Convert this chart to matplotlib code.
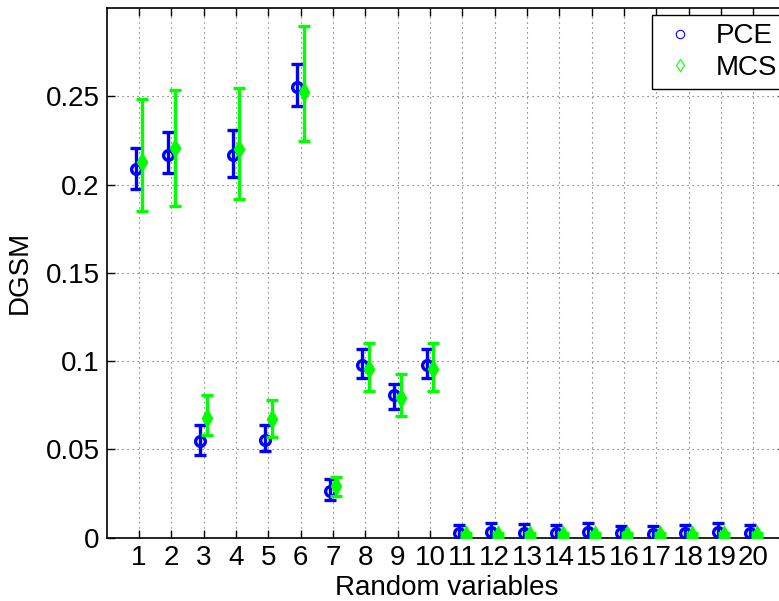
import numpy as np
import matplotlib
matplotlib.use('Agg')
import matplotlib.pyplot as plt
from matplotlib.lines import Line2D

plt.rcParams['font.family'] = ['Liberation Sans', 'DejaVu Sans']

# Random variable index
variables = np.arange(1, 21)

# PCE estimates of DGSM with lower / upper error
pce_mean = [0.209, 0.217, 0.055, 0.217, 0.0555, 0.2553, 0.0262, 0.098, 0.0806, 0.098,
            0.0025, 0.003, 0.0028, 0.0027, 0.003, 0.0025, 0.0023, 0.0026, 0.003, 0.0027]
pce_lo = [0.0115, 0.0104, 0.0082, 0.0127, 0.0062, 0.0106, 0.0048, 0.0077, 0.0075, 0.0077,
          0.0045, 0.0053, 0.005, 0.0047, 0.0055, 0.0043, 0.0041, 0.0046, 0.0053, 0.0047]
pce_hi = [0.0118, 0.0128, 0.0086, 0.0137, 0.0081, 0.0127, 0.0071, 0.0089, 0.0066, 0.0089,
          0.0045, 0.0053, 0.005, 0.0047, 0.0055, 0.0043, 0.0041, 0.0046, 0.0053, 0.0047]

# MCS estimates of DGSM with lower / upper error
mcs_mean = [0.2128, 0.2208, 0.0678, 0.2202, 0.0674, 0.2527, 0.0291, 0.0956, 0.0791, 0.0956,
            0.0015, 0.0015, 0.0015, 0.0015, 0.0015, 0.0015, 0.0015, 0.0015, 0.0015, 0.0015]
mcs_lo = [0.0276, 0.0327, 0.0096, 0.0282, 0.0106, 0.0282, 0.0055, 0.0127, 0.0104, 0.0127,
          0.001, 0.001, 0.001, 0.001, 0.001, 0.001, 0.001, 0.001, 0.001, 0.001]
mcs_hi = [0.0359, 0.0328, 0.0128, 0.0346, 0.0106, 0.0372, 0.0055, 0.0147, 0.0138, 0.0149,
          0.001, 0.001, 0.001, 0.001, 0.001, 0.001, 0.001, 0.001, 0.001, 0.001]

yticks = [0, 0.05, 0.1, 0.15, 0.2, 0.25]
yticklabels = ['0', '0.05', '0.1', '0.15', '0.2', '0.25']

fig = plt.figure(figsize=(7.79, 6.01), dpi=100)
ax = fig.add_axes([0.137, 0.1053, 0.8716, 0.8814])

ax.errorbar(variables - 0.1, pce_mean, yerr=[pce_lo, pce_hi], fmt='o', color='b',
            mfc='none', mec='b', ms=7, mew=2.4, elinewidth=2.4, capsize=4.2,
            capthick=2.4, zorder=3)
ax.errorbar(variables + 0.1, mcs_mean, yerr=[mcs_lo, mcs_hi], fmt='d', color='#00ff00',
            mfc='#00ff00', mec='#00ff00', ms=7, mew=2.4, elinewidth=2.4, capsize=4.2,
            capthick=2.4, zorder=4)

ax.set_xlim(0, 21)
ax.set_ylim(0, 0.3)
ax.set_xticks(variables)
ax.set_xticklabels([str(v) for v in variables])
ax.set_yticks(yticks)
ax.set_yticklabels(yticklabels)
ax.tick_params(direction='in', length=6, width=1, labelsize=20, top=True, right=True,
               pad=5)
ax.grid(True, linestyle=(0, (1, 3.5)), color='0.35', linewidth=0.8)
ax.set_axisbelow(True)
for s in ax.spines.values():
    s.set_linewidth(1.2)

ax.set_xlabel('Random variables', fontsize=20, labelpad=3)
ax.set_ylabel('DGSM', fontsize=20, labelpad=9)

handles = [Line2D([], [], ls='none', marker='o', mfc='none', mec='b', ms=6, mew=0.8),
           Line2D([], [], ls='none', marker='d', mfc='none', mec='#00ff00', ms=6, mew=0.8)]
leg = ax.legend(handles, ['PCE', 'MCS'], loc='upper right',
                bbox_to_anchor=(1.0, 1 - 7 / 530), borderaxespad=0, fontsize=20,
                fancybox=False, framealpha=1, edgecolor='k', handlelength=1.4,
                handletextpad=0.6, borderpad=0.3, labelspacing=0.2)
leg.get_frame().set_linewidth(1.0)

fig.savefig('out.png', dpi=100)
